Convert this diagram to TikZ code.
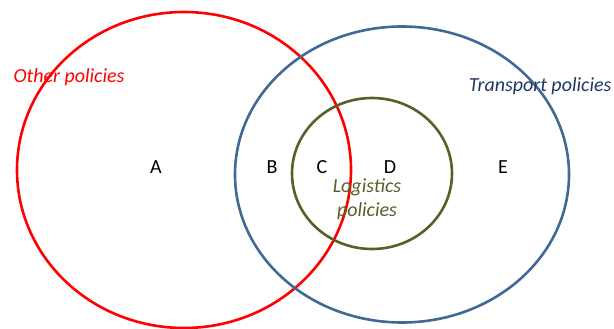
\documentclass[tikz,border=0pt]{standalone}
\usepackage{fontspec}
\setmainfont{Carlito}
\usepackage{xcolor}
\definecolor{otherred}{RGB}{255,0,0}
\definecolor{transblue}{RGB}{65,105,150}
\definecolor{transtext}{RGB}{31,56,100}
\definecolor{logigreen}{RGB}{84,98,40}
\tikzset{
  set/.style={line width=2.6pt},
  region/.style={font=\fontsize{20}{24}\selectfont, text=black},
  setlabel/.style={font=\fontsize{20}{24}\selectfont\itshape}
}

\begin{document}
\begin{tikzpicture}[x=1pt,y=-1pt]
\useasboundingbox (0,0) rectangle (614,329);

\draw [set, otherred] (184,170) ellipse (167 and 158);
\draw [set, transblue] (402,174.5) ellipse (167 and 148);
\draw [set, logigreen] (372,173.5) ellipse (80 and 75.5);

\node [region] (a) at (156,167) {A};
\node [region] (b) at (272,167) {B};
\node [region] (c) at (322,167) {C};
\node [region] (d) at (390,167) {D};
\node [region] (e) at (503,167) {E};

\node [setlabel, otherred, anchor=west] (other) at (10,77) {Other policies};
\node [setlabel, transtext, anchor=east] (transport) at (615,86) {Transport policies};
\node [setlabel, logigreen, align=center] (logistics) at (367,199) {Logistics\\policies};
\end{tikzpicture}
\end{document}
